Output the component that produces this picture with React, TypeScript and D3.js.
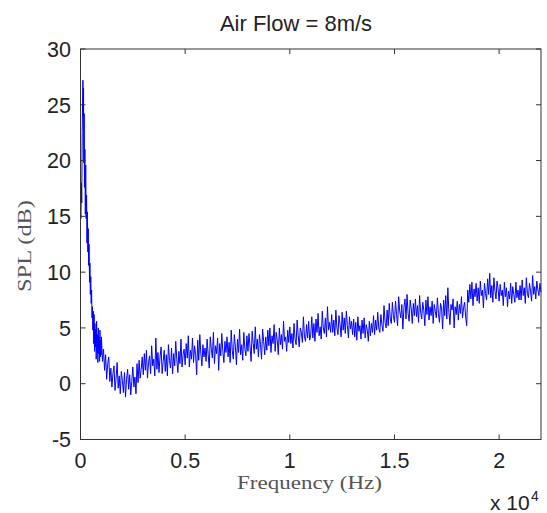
import React from "react";
import * as d3 from "d3";

const title = "Air Flow = 8m/s";
const xLabel = "Frequency (Hz)";
const yLabel = "SPL (dB)";
const xTicks = [0, 5000, 10000, 15000, 20000];
const xTickLabels = ["0", "0.5", "1", "1.5", "2"];
const yTicks = [-5, 0, 5, 10, 15, 20, 25, 30];
const xDomain = [0, 22000];
const yDomain = [-5, 30];

// Low-frequency part (explicit frequencies, Hz) and SPL (dB)
const lowFreqHz = [0, 20, 40, 60, 80, 100, 115, 130, 145, 160, 175, 190, 210, 230, 250, 270, 290, 310, 330, 350, 370, 390, 410, 430, 450, 470, 490, 510, 530, 550, 570, 590, 610, 630, 650, 670, 690, 710, 730, 750, 770, 790, 810, 830, 850, 870, 890, 910, 930, 950, 970, 990];
const lowSpl = [15.4, 14.8, 18.0, 16.2, 22.5, 25.1, 27.2, 24.0, 26.5, 19.8, 24.2, 17.6, 21.0, 15.2, 19.6, 14.8, 16.9, 12.6, 15.4, 11.8, 13.9, 10.6, 12.5, 9.1, 10.8, 8.0, 9.6, 7.2, 8.4, 5.9, 6.9, 4.8, 6.5, 3.6, 6.2, 2.9, 5.4, 3.3, 4.9, 2.2, 5.6, 2.8, 4.4, 1.9, 5.0, 2.7, 4.2, 2.0, 4.8, 2.4, 3.9, 2.6];

// Main part: SPL (dB) sampled every mainStepHz from mainStartHz
const mainStartHz = 1000;
const mainStepHz = 50;
const mainSpl = [
  4.2, 2.0, 3.1, 1.2, 2.6, 0.4, 1.8, 2.4, 0.2, 1.4, -0.3, 0.9, 1.6, -0.6, 0.5, 1.9, -0.4, 0.7, -0.9, 1.1,
  0.3, -0.8, 1.0, -1.2, 0.4, 1.3, -0.5, 0.8, -1.0, 0.2, 1.5, -0.3, 0.6, -0.9, 1.8, 0.1, 2.1, 0.5, 1.3, 2.4,
  0.8, 2.7, 1.2, 3.0, 0.5, 1.9, 2.5, 0.9, 3.4, 1.6, 2.2, 0.7, 4.1, 1.3, 2.8, 1.0, 2.4, 3.3, 0.9, 2.0,
  3.0, 1.1, 2.6, 0.7, 3.5, 2.1, 1.4, 3.2, 0.9, 2.7, 1.6, 3.8, 2.2, 1.0, 2.9, 1.8, 4.0, 1.5, 2.6, 3.1,
  1.7, 3.6, 2.3, 4.3, 1.5, 3.0, 2.2, 4.1, 1.9, 3.4, 2.6, 0.8, 3.9, 2.1, 4.4, 2.7, 1.6, 3.5, 2.4, 3.2,
  2.0, 4.0, 2.6, 1.4, 4.2, 3.1, 2.3, 4.6, 1.8, 3.4, 2.7, 4.1, 1.2, 3.6, 2.5, 4.5, 2.9, 1.9, 3.8, 2.8,
  4.2, 2.4, 3.7, 1.9, 4.8, 3.0, 2.2, 4.4, 3.3, 1.7, 4.0, 2.8, 4.9, 2.6, 3.5, 2.1, 4.6, 3.2, 2.5, 4.3,
  2.9, 4.5, 3.3, 2.0, 4.7, 3.6, 2.7, 5.1, 3.1, 4.0, 2.4, 4.4, 3.5, 2.2, 4.9, 3.8, 2.6, 4.2, 3.0, 4.8,
  3.4, 5.0, 2.8, 4.3, 3.6, 5.3, 2.9, 4.6, 3.9, 2.6, 5.0, 3.5, 4.4, 3.1, 5.6, 3.8, 4.2, 2.9, 4.8, 3.7,
  5.1, 3.6, 4.5, 3.2, 5.4, 4.0, 3.5, 5.7, 4.3, 3.3, 5.0, 4.6, 3.7, 6.0, 4.2, 3.8, 5.3, 4.1, 5.6, 3.9,
  4.4, 6.0, 4.1, 5.4, 3.8, 5.8, 4.6, 6.3, 4.3, 5.1, 4.0, 6.5, 5.0, 4.5, 5.9, 4.2, 6.9, 4.8, 5.5, 4.6,
  6.2, 4.6, 5.7, 4.3, 6.6, 5.0, 4.4, 6.1, 5.3, 4.2, 6.4, 4.8, 5.9, 4.5, 6.5, 5.2, 4.1, 6.0, 4.9, 5.6,
  4.4, 5.8, 4.2, 5.5, 3.9, 6.0, 4.7, 5.2, 4.0, 5.7, 4.5, 5.9, 4.1, 5.3, 4.8, 3.8, 5.6, 4.3, 5.4, 4.6,
  6.1, 4.4, 5.7, 4.8, 6.4, 5.0, 4.6, 6.2, 5.3, 4.7, 7.0, 5.5, 5.0, 6.6, 5.2, 7.2, 5.8, 5.4, 7.3, 6.1,
  5.5, 7.4, 6.2, 5.2, 7.8, 6.5, 5.9, 7.1, 4.9, 6.8, 7.6, 5.8, 8.0, 6.3, 5.6, 7.5, 6.7, 5.4, 7.2, 6.1,
  7.6, 6.0, 7.0, 5.5, 7.9, 6.4, 5.8, 7.3, 6.6, 5.2, 7.5, 6.2, 7.8, 5.7, 6.9, 6.1, 7.4, 5.4, 7.1, 6.5,
  5.9, 7.7, 6.3, 5.5, 7.2, 6.8, 4.9, 7.5, 6.1, 7.9, 5.8, 8.6, 6.4, 5.3, 7.1, 6.6, 7.6, 5.0, 6.9, 6.2,
  7.4, 5.7, 7.1, 6.3, 7.8, 5.9, 6.8, 7.3, 6.0, 5.2, 8.4, 7.3, 8.9, 7.6, 9.1, 7.0, 8.5, 7.8, 9.0, 7.4,
  8.6, 7.2, 9.2, 7.9, 8.4, 6.8, 9.0, 8.1, 7.5, 9.4, 8.0, 9.9, 7.7, 8.8, 7.3, 9.5, 8.3, 7.6, 9.2, 8.5,
  7.4, 8.9, 7.9, 8.4, 7.0, 9.1, 7.8, 8.6, 6.9, 8.3, 7.6, 9.0, 7.2, 8.7, 8.0, 7.3, 9.1, 7.7, 8.4, 7.5,
  8.8, 7.5, 9.3, 7.9, 8.6, 7.2, 9.5, 8.1, 7.7, 9.0, 8.3, 7.4, 9.7, 8.0, 8.7, 7.6, 9.2, 8.4, 7.9, 9.0,
  8.2,
];

export default function App() {
  const W = 547;
  const H = 513;
  const left = 80.5;
  const right = 541;
  const top = 49;
  const bottom = 439.5;
  const x = d3.scaleLinear().domain(xDomain).range([left, right]);
  const y = d3.scaleLinear().domain(yDomain).range([bottom, top]);

  const points: [number, number][] = [
    ...lowFreqHz.map((f, i) => [f, lowSpl[i]] as [number, number]),
    ...mainSpl.map((v, i) => [mainStartHz + i * mainStepHz, v] as [number, number]),
  ];
  const line = d3
    .line<[number, number]>()
    .x((d) => x(d[0]))
    .y((d) => y(d[1]));

  const sans = "Arial, 'Liberation Sans', sans-serif";
  const serif = "'Times New Roman', 'Liberation Serif', serif";
  const tickLen = 5;
  const axisColor = "#333";

  return (
    <svg
      width={W}
      height={H}
      style={{ position: "absolute", left: 0, top: 0, background: "#fff" }}
    >
      <rect x={0} y={0} width={W} height={H} fill="#fff" />
      <path d={line(points) || ""} fill="none" stroke="#0000ff" strokeWidth={1} />
      {/* box */}
      <rect
        x={left}
        y={top}
        width={right - left}
        height={bottom - top}
        fill="none"
        stroke={axisColor}
        strokeWidth={1}
      />
      {/* x ticks */}
      {xTicks.map((t, i) => (
        <g key={"xt" + i}>
          <line x1={x(t)} x2={x(t)} y1={bottom} y2={bottom - tickLen} stroke={axisColor} />
          <line x1={x(t)} x2={x(t)} y1={top} y2={top + tickLen} stroke={axisColor} />
          <text
            x={x(t)}
            y={468}
            textAnchor="middle"
            fontFamily={sans}
            fontSize={21.5}
            fill="#222"
          >
            {xTickLabels[i]}
          </text>
        </g>
      ))}
      {/* y ticks */}
      {yTicks.map((t, i) => (
        <g key={"yt" + i}>
          <line x1={left} x2={left + tickLen} y1={y(t)} y2={y(t)} stroke={axisColor} />
          <line x1={right} x2={right - tickLen} y1={y(t)} y2={y(t)} stroke={axisColor} />
          <text
            x={71}
            y={y(t)}
            dy="0.36em"
            textAnchor="end"
            fontFamily={sans}
            fontSize={21.5}
            fill="#222"
          >
            {t}
          </text>
        </g>
      ))}
      {/* title */}
      <text
        x={296}
        y={31}
        textAnchor="middle"
        fontFamily={sans}
        fontSize={22}
        fill="#222"
      >
        {title}
      </text>
      {/* x label */}
      <text
        x={309.5}
        y={489}
        textAnchor="middle"
        fontFamily={serif}
        fontSize={19}
        fill="#555"
        textLength={145}
        lengthAdjust="spacingAndGlyphs"
      >
        {xLabel}
      </text>
      {/* y label */}
      <text
        transform={`translate(31,246) rotate(-90)`}
        textAnchor="middle"
        fontFamily={serif}
        fontSize={19}
        fill="#555"
        textLength={92}
        lengthAdjust="spacingAndGlyphs"
      >
        {yLabel}
      </text>
      {/* exponent */}
      <text x={490} y={510} fontFamily={sans} fontSize={21} fill="#222">
        x 10
      </text>
      <text x={531} y={501} fontFamily={sans} fontSize={14} fill="#222">
        4
      </text>
    </svg>
  );
}
